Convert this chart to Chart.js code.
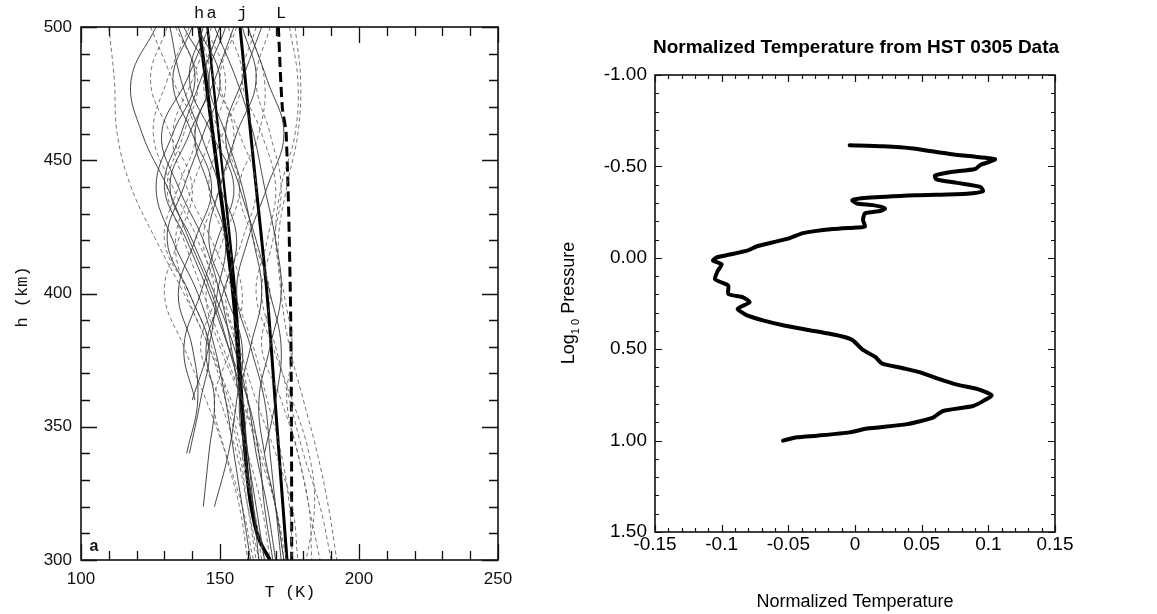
<!DOCTYPE html>
<html lang="en">
<head>
<meta charset="UTF-8">
<title>Temperature profiles</title>
<style>
  html, body { margin: 0; padding: 0; background: #fff; }
  body { width: 1157px; height: 614px; position: relative; overflow: hidden; }
  .panel { position: absolute; top: 0; height: 614px; }
  #left { left: 0; width: 540px; }
  #right { left: 540px; width: 617px; }
</style>
<script src="https://cdn.jsdelivr.net/npm/chart.js"></script>
</head>
<body>
<div class="panel" id="left"><canvas id="profilesChart"></canvas></div>
<div class="panel" id="right"><canvas id="normChart"></canvas></div>
<script>
// ---- left panel: individual profiles, T (K) against height (km) ----
const gridKm = [500, 480, 460, 440, 420, 400, 380, 360, 340, 320, 300];

const solidRuns = [
  [127, 118, 122, 131, 139, 147, 153, 158, 160, 163, 166],
  [135, 141, 133, 127, 133, 142, 148, 152, 155, 158, 161],
  [146, 138, 129, 135, 144, 150, 154, 157, 160, 162, 164],
  [150, 143, 136, 130, 138, 146, 153, 160, 164, 166, 169],
  [142, 150, 144, 137, 131, 139, 146, 143, 139, null, null],
  [155, 148, 141, 146, 152, 149, 146, 140, null, null, null],
  [158, 163, 156, 150, 146, 152, 158, 156, 153, 148, null],
  [160, 167, 173, 167, 160, 156, 161, 166, 168, 170, 172],
  [148, 156, 162, 166, 170, 172, 168, 164, 166, 170, 173],
  [132, 136, 143, 150, 156, 151, 145, 148, 146, 144, null],
  [140, 133, 140, 147, 141, 135, 140, 142, 138, null, null],
  [152, 146, 152, 158, 162, 165, 161, 157, 159, 162, null],
  [165, 158, 152, 157, 163, 168, 172, 170, 166, null, null],
  [144, 139, 147, 155, 149, 143, 137, 141, null, null, null],
  [137, 146, 139, 132, 140, 148, 155, 160, 163, 167, 170]
];

const dashedRuns = [
  [110, 112, 113, 118, 127, 137, 146, 152, 157, 160, 163],
  [175, 178, 177, 172, 170, 173, 176, 174, 178, 182, 183],
  [177, 179, 178, 174, 171, 172, 175, 180, 185, 189, 192],
  [131, 125, 132, 140, 135, 130, 137, 145, 152, 158, 162],
  [139, 131, 126, 133, 142, 148, 143, 150, 156, 160, 164],
  [145, 152, 147, 140, 134, 138, 146, 154, 160, 165, 168],
  [150, 144, 150, 157, 151, 145, 150, 158, 165, 170, 174],
  [156, 150, 157, 163, 158, 152, 157, 163, 170, 176, 178],
  [125, 133, 141, 135, 130, 139, 147, 153, 158, 162, 165],
  [147, 140, 133, 138, 147, 155, 162, 167, 172, 175, 176],
  [160, 166, 164, 157, 162, 168, 165, 172, 178, 182, 186],
  [163, 158, 165, 170, 167, 163, 169, 176, 182, 184, 181],
  [142, 148, 155, 150, 144, 150, 156, 160, 158, 162, 166],
  [134, 142, 137, 131, 137, 144, 151, 158, 164, 170, 173],
  [153, 158, 151, 146, 152, 158, 154, 148, 152, 157, 160],
  [168, 163, 168, 172, 169, 165, 170, 175, 180, 186, 190]
];

// labelled mean profiles
const hKm = [500, 450, 400, 350, 325, 312, 306, 300];
const hT  = [142.5, 148.6, 154.7, 158.3, 160.5, 162.8, 164.8, 168];
const aKm = [500, 450, 400, 350, 340];
const aT  = [145.5, 150.5, 155.5, 158.6, 159.2];
const jKm = [500, 450, 400, 350, 300];
const jT  = [157.2, 162, 166.9, 170.5, 174.1];
const lKm = [500, 470, 460, 400, 350, 300];
const lT  = [171, 172.4, 173.8, 175.3, 175.7, 175.8];
const meanNames = ['h', 'a', 'j', 'L'];

// ---- right panel: normalized temperature against log10 pressure ----
const normTemp = [
  -0.004, 0.021, 0.0435, 0.071, 0.105, 0.10, 0.094, 0.09, 0.071, 0.06, 0.061, 0.0765, 0.094, 0.096,
  0.084, 0.046, 0.009, -0.002, 0.0015, 0.0135, 0.0225, 0.019, 0.0075, 0.006, 0.0075, 0.0015,
  -0.0165, -0.039, -0.049, -0.0585, -0.0735, -0.081, -0.094, -0.1035, -0.1065, -0.1, -0.103,
  -0.105, -0.1, -0.095, -0.095, -0.084, -0.079, -0.088, -0.081, -0.069, -0.054, -0.034, -0.011,
  -0.002, 0.006, 0.015, 0.020, 0.036, 0.049, 0.061, 0.0765, 0.0915, 0.1025, 0.096, 0.0885, 0.066,
  0.0585, 0.039, 0.009, -0.004, -0.0285, -0.0435, -0.054
];
const logPressure = [
  -0.616, -0.61, -0.598, -0.568, -0.54, -0.523, -0.508, -0.486, -0.468, -0.45, -0.429, -0.41, -0.388, -0.364,
  -0.351, -0.342, -0.328, -0.315, -0.297, -0.288, -0.27, -0.256, -0.243, -0.207, -0.171, -0.166,
  -0.157, -0.135, -0.108, -0.09, -0.063, -0.039, -0.018, -0.003, 0.015, 0.036, 0.072,
  0.117, 0.135, 0.153, 0.198, 0.216, 0.243, 0.279, 0.315, 0.342, 0.369, 0.396, 0.428,
  0.45, 0.504, 0.541, 0.577, 0.604, 0.627, 0.658, 0.694, 0.717, 0.753, 0.784, 0.811, 0.838,
  0.874, 0.91, 0.934, 0.955, 0.973, 0.982, 1.0
];

function toPoints(xs, ys) {
  const pts = [];
  xs.forEach((x, i) => { if (x !== null) pts.push({ x: x, y: ys[i] }); });
  return pts;
}

// inward ticks + frame, drawn from the chart's own scales
function drawFrame(chart, cfg) {
  const ctx = chart.ctx;
  const a = chart.chartArea;
  const xs = chart.scales.x, ys = chart.scales.y;
  ctx.save();
  ctx.strokeStyle = cfg.color;
  ctx.lineWidth = cfg.frameWidth;
  ctx.strokeRect(a.left, a.top, a.right - a.left, a.bottom - a.top);
  ctx.lineWidth = cfg.tickWidth;
  ctx.beginPath();
  for (let i = 0; i <= cfg.xCount; i++) {
    const v = cfg.xMin + i * cfg.xStep;
    const px = Math.round(xs.getPixelForValue(v)) + 0.5;
    const len = i % cfg.every === 0 ? cfg.major : cfg.minor;
    ctx.moveTo(px, a.bottom); ctx.lineTo(px, a.bottom - len);
    ctx.moveTo(px, a.top); ctx.lineTo(px, a.top + len);
  }
  for (let i = 0; i <= cfg.yCount; i++) {
    const v = cfg.yMin + i * cfg.yStep;
    const py = Math.round(ys.getPixelForValue(v)) + 0.5;
    const len = i % cfg.every === 0 ? cfg.major : cfg.minor;
    ctx.moveTo(a.left, py); ctx.lineTo(a.left + len, py);
    ctx.moveTo(a.right, py); ctx.lineTo(a.right - len, py);
  }
  ctx.stroke();
  ctx.restore();
}

const leftDecor = {
  id: 'leftDecor',
  afterDraw(chart) {
    drawFrame(chart, { color: '#111', frameWidth: 1.6, tickWidth: 1.3,
      xMin: 100, xStep: 10, xCount: 15, yMin: 300, yStep: 10, yCount: 20,
      every: 5, major: 16, minor: 9 });
    const ctx = chart.ctx, a = chart.chartArea, xs = chart.scales.x;
    ctx.save();
    ctx.fillStyle = '#111';
    ctx.textAlign = 'center';
    ctx.textBaseline = 'middle';
    ctx.font = '17px "Liberation Mono", monospace';
    const tops = [hT[0], aT[0] + 1.5, jT[0] + 0.8, lT[0] + 1];
    meanNames.forEach((n, i) => ctx.fillText(n, xs.getPixelForValue(tops[i]), 13));
    ctx.font = '17px "Liberation Mono", monospace';
    ctx.fillText('T (K)', 290, 592);
    ctx.save();
    ctx.translate(22, 297);
    ctx.rotate(-Math.PI / 2);
    ctx.fillText('h (km)', 0, 0);
    ctx.restore();
    ctx.font = 'bold 16px "Liberation Sans", Arial, sans-serif';
    ctx.fillText('a', a.left + 13, a.bottom - 13);
    ctx.restore();
  }
};

const rightDecor = {
  id: 'rightDecor',
  afterDraw(chart) {
    drawFrame(chart, { color: '#111', frameWidth: 1.6, tickWidth: 1.2,
      xMin: -0.15, xStep: 0.01, xCount: 30, yMin: -1, yStep: 0.1, yCount: 25,
      every: 5, major: 7, minor: 4 });
    const ctx = chart.ctx, a = chart.chartArea;
    const cx = (a.left + a.right) / 2;
    ctx.save();
    ctx.fillStyle = '#000';
    ctx.textAlign = 'center';
    ctx.textBaseline = 'middle';
    ctx.font = 'bold 19px "Liberation Sans", Arial, sans-serif';
    ctx.fillText('Normalized Temperature from HST 0305 Data', cx + 1, 48);
    ctx.font = '18px "Liberation Sans", Arial, sans-serif';
    ctx.fillText('Normalized Temperature', cx, 602);
    // rotated y title with subscript
    ctx.save();
    ctx.translate(29, 303);
    ctx.rotate(-Math.PI / 2);
    ctx.textAlign = 'left';
    const big = '18px "Liberation Sans", Arial, sans-serif';
    const small = '11px "Liberation Sans", Arial, sans-serif';
    ctx.font = big; const w1 = ctx.measureText('Log').width;
    ctx.font = small; const w2 = ctx.measureText('1 0').width;
    ctx.font = big; const w3 = ctx.measureText(' Pressure').width;
    let x0 = -(w1 + w2 + w3) / 2;
    ctx.font = big; ctx.fillText('Log', x0, 0); x0 += w1;
    ctx.font = small; ctx.fillText('1 0', x0, 7); x0 += w2;
    ctx.font = big; ctx.fillText(' Pressure', x0, 0);
    ctx.restore();
    ctx.restore();
  }
};

Chart.defaults.devicePixelRatio = 1;

const leftSets = [];
solidRuns.forEach(run => leftSets.push({
  data: toPoints(run, gridKm), showLine: true, borderColor: '#333', borderWidth: 0.9,
  tension: 0.4, pointRadius: 0
}));
dashedRuns.forEach(run => leftSets.push({
  data: toPoints(run, gridKm), showLine: true, borderColor: '#666', borderWidth: 0.9,
  borderDash: [4, 3], tension: 0.4, pointRadius: 0
}));
leftSets.push({ data: toPoints(hT, hKm), showLine: true, borderColor: '#000', borderWidth: 3.6, tension: 0.3, pointRadius: 0 });
leftSets.push({ data: toPoints(aT, aKm), showLine: true, borderColor: '#000', borderWidth: 2.4, tension: 0.3, pointRadius: 0 });
leftSets.push({ data: toPoints(jT, jKm), showLine: true, borderColor: '#000', borderWidth: 3, tension: 0.3, pointRadius: 0 });
leftSets.push({ data: toPoints(lT, lKm), showLine: true, borderColor: '#000', borderWidth: 3, borderDash: [10, 5], tension: 0.3, pointRadius: 0 });

const leftTickFont = { family: '"Liberation Sans", Arial, sans-serif', size: 17 };

new Chart(document.getElementById('profilesChart'), {
  type: 'scatter',
  data: { datasets: leftSets },
  options: {
    animation: false,
    responsive: true,
    maintainAspectRatio: false,
    layout: { padding: { left: 0, top: 27, right: 42, bottom: 0 } },
    plugins: { legend: { display: false }, tooltip: { enabled: false } },
    scales: {
      x: {
        type: 'linear', min: 100, max: 250,
        grid: { display: false, drawTicks: false }, border: { display: false },
        ticks: { stepSize: 50, padding: 9, color: '#111', font: leftTickFont },
        afterFit(s) { s.height = 54; }
      },
      y: {
        type: 'linear', min: 300, max: 500,
        grid: { display: false, drawTicks: false }, border: { display: false },
        ticks: { stepSize: 50, padding: 9, color: '#111', font: leftTickFont },
        afterFit(s) { s.width = 81; }
      }
    }
  },
  plugins: [leftDecor]
});

new Chart(document.getElementById('normChart'), {
  type: 'scatter',
  data: {
    datasets: [{
      data: toPoints(normTemp, logPressure), showLine: true, borderColor: '#000',
      borderWidth: 4, tension: 0.2, pointRadius: 0, borderJoinStyle: 'round', borderCapStyle: 'round'
    }]
  },
  options: {
    animation: false,
    responsive: true,
    maintainAspectRatio: false,
    layout: { padding: { left: 0, top: 75, right: 102, bottom: 0 } },
    plugins: { legend: { display: false }, tooltip: { enabled: false } },
    scales: {
      x: {
        type: 'linear', min: -0.15, max: 0.15,
        grid: { display: false, drawTicks: false }, border: { display: false },
        ticks: {
          stepSize: 0.05, padding: 1, color: '#000', maxRotation: 0, autoSkip: false,
          font: { family: '"Liberation Sans", Arial, sans-serif', size: 19 },
          callback: v => String(Number(v.toFixed(2)))
        },
        afterFit(s) { s.height = 82; }
      },
      y: {
        type: 'linear', min: -1, max: 1.5, reverse: true,
        grid: { display: false, drawTicks: false }, border: { display: false },
        ticks: {
          stepSize: 0.5, padding: 8, color: '#000',
          font: { family: '"Liberation Sans", Arial, sans-serif', size: 19 },
          callback: v => (Math.abs(v) < 1e-9 ? 0 : v).toFixed(2)
        },
        afterFit(s) { s.width = 115; }
      }
    }
  },
  plugins: [rightDecor]
});
</script>
</body>
</html>
